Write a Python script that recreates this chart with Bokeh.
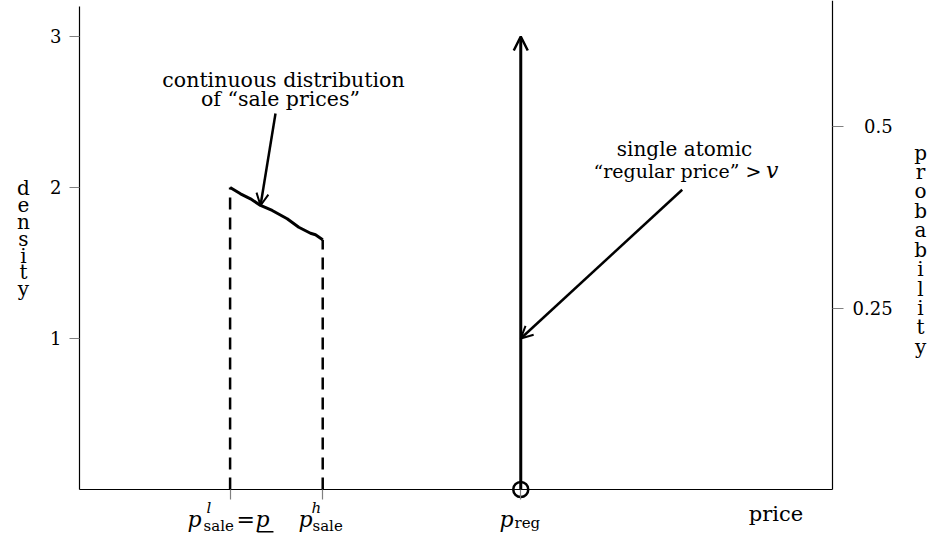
from bokeh.plotting import figure
from bokeh.models import Range1d, LinearAxis, FixedTicker, Label, Arrow, OpenHead
from bokeh.embed import file_html
from bokeh.resources import INLINE

FONT = "DejaVu Serif"

# ---- data ----
p_sale_l = 2.0
p_sale_h = 3.23
p_reg = 5.86
atom_top = 3.0
atom_mark = 1.0
sale_price_x = [2.0, 2.138, 2.271, 2.404, 2.559, 2.758, 2.912, 3.068, 3.134, 3.23]
sale_density = [2.0, 1.958, 1.925, 1.881, 1.848, 1.793, 1.737, 1.697, 1.687, 1.654]
density_ticks = [1, 2, 3]
prob_ticks = [0.25, 0.5]
prob_tick_labels = ["0.25", "\u20070.5"]
price_ticks = [p_sale_l, p_sale_h, p_reg]
price_max = 10.0
density_max = 3.199
prob_max = 0.6745

W, H = 927, 541
p = figure(width=W, height=H, output_backend="svg", toolbar_location=None,
           x_range=Range1d(-1.0491, 11.2616), y_range=Range1d(-0.3444, 3.2384),
           min_border=0, min_border_left=0, min_border_right=0, min_border_top=0,
           min_border_bottom=0, title=None, x_axis_type=None, y_axis_type=None)
p.outline_line_color = None
p.extra_y_ranges = {"prob": Range1d(-0.07172, 0.67448)}


def style_axis(ax, out=10, standoff=8):
    ax.axis_line_color = "black"
    ax.axis_line_width = 1.2
    ax.major_tick_line_color = "#808080"
    ax.major_tick_line_width = 1.2
    ax.major_tick_in = 0
    ax.major_tick_out = out
    ax.minor_tick_line_color = None
    ax.major_label_text_font = FONT
    ax.major_label_text_font_size = "18px"
    ax.major_label_text_color = "black"
    ax.major_label_standoff = standoff


left = LinearAxis(ticker=FixedTicker(ticks=density_ticks), fixed_location=0,
                  bounds=(0, density_max))
style_axis(left, 10, 8)
p.add_layout(left, "left")

right = LinearAxis(y_range_name="prob", ticker=FixedTicker(ticks=prob_ticks),
                   fixed_location=price_max, bounds=(0, prob_max),
                   major_label_overrides=dict(zip(prob_ticks, prob_tick_labels)))
style_axis(right, 11, 9)
p.add_layout(right, "right")

bottom = LinearAxis(ticker=FixedTicker(ticks=price_ticks), fixed_location=0,
                    bounds=(0, price_max),
                    major_label_overrides={t: "" for t in price_ticks})
style_axis(bottom, 10, 4)
p.add_layout(bottom, "below")

# ---- marks ----
p.segment(x0=[p_sale_l, p_sale_h], y0=[0, 0], x1=[p_sale_l, p_sale_h],
          y1=[sale_density[0], sale_density[-1]], line_color="black",
          line_width=2.5, line_dash="12 8")
p.line(sale_price_x, sale_density, line_color="black", line_width=3)
p.add_layout(Arrow(x_start=p_reg, y_start=0, x_end=p_reg, y_end=atom_top,
                   line_width=3, line_color="black",
                   end=OpenHead(size=14, line_width=2.5, line_color="black")))
p.scatter([p_reg], [0], marker="circle", size=15, fill_color=None,
          line_color="black", line_width=2.5)

# annotation arrows
p.add_layout(Arrow(x_start=2.603, y_start=2.490, x_end=sale_price_x[3], y_end=sale_density[3],
                   line_width=2.5, line_color="black",
                   end=OpenHead(size=12, line_width=2, line_color="black")))
p.add_layout(Arrow(x_start=8.004, y_start=1.985, x_end=p_reg, y_end=atom_mark,
                   line_width=2.5, line_color="black",
                   end=OpenHead(size=12, line_width=2, line_color="black")))


def lab(x, y, text, size, style="normal", align="left", baseline="alphabetic", lh=1.2):
    p.add_layout(Label(x=x, y=y, text=text, text_font=FONT, text_font_size=f"{size}px",
                       text_font_style=style, text_align=align, text_baseline=baseline,
                       text_color="black", text_line_height=lh))


lab(2.709, 2.709, "continuous distribution", 20.5, align="center")
lab(2.669, 2.585, "of \u201csale prices\u201d", 20.5, align="center")
lab(8.035, 2.252, "single atomic", 20, align="center")
lab(6.826, 2.112, "\u201cregular price\u201d >", 19)
lab(9.283, 2.112, "v", 22, style="italic", align="right")

lab(9.250, -0.165, "price", 21, align="center")
lab(-0.744, 2.073, "\n".join("density"), 20, align="center", baseline="top", lh=0.70)
lab(11.169, 2.311, "\n".join("probability"), 20, align="center", baseline="top", lh=0.81)

# x tick labels (composite math labels)
BY = -0.199   # baseline of main symbols
SUP = -0.122  # superscript baseline
SUB = -0.240  # subscript baseline
lab(1.434, BY, "p", 22, style="italic")
lab(1.687, SUP, "l", 15, style="italic")
lab(1.647, SUB, "sale", 15)
lab(2.085, BY, "=", 22)
lab(2.337, BY, "p", 22, style="italic")
p.segment(x0=[2.364], y0=[-0.280], x1=[2.576], y1=[-0.280],
          line_color="black", line_width=1.5)
lab(2.908, BY, "p", 22, style="italic")
lab(3.081, SUP, "h", 15, style="italic")
lab(3.094, SUB, "sale", 15)
lab(5.578, BY, "p", 22, style="italic")
lab(5.777, BY - 0.02, "reg", 15)

open("out.html", "w").write(file_html(p, INLINE))
